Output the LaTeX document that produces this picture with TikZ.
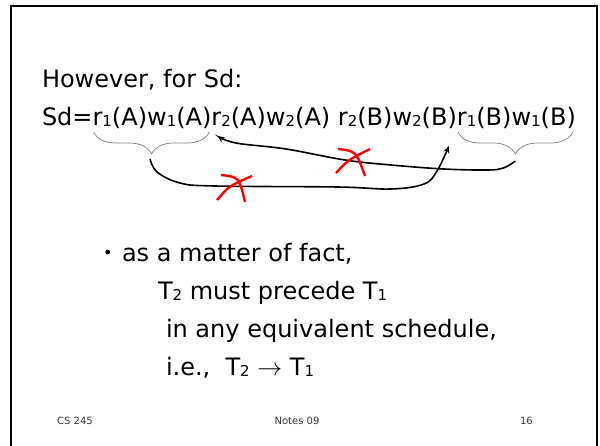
\documentclass[tikz,border=0pt]{standalone}
\usepackage{fontspec}
\setmainfont{DejaVu Sans}
\usetikzlibrary{calc,decorations.pathreplacing,arrows.meta}
\newcommand\sbx[1]{\raisebox{-1pt}{\fontsize{15}{15}\selectfont #1}}
\tikzset{
  txt/.style={anchor=base west, inner sep=0pt, outer sep=0pt, font=\fontsize{24}{28}\selectfont},
  foot/.style={anchor=base west, inner sep=0pt, text=black!80, font=\fontsize{10}{12}\selectfont},
  bracesty/.style={draw=black!50, line width=0.7pt, decorate, decoration={brace, mirror, amplitude=22pt}},
  arrowsty/.style={draw=black, line width=1.6pt, -{Stealth[length=7pt,width=6pt]}},
  crosssty/.style={draw=red, line width=2.4pt},
  framesty/.style={draw=black, line width=2.5pt}
}
\begin{document}
\begin{tikzpicture}[x=1pt,y=-1pt]
\useasboundingbox (0,0) rectangle (600,445);
\node[txt] (how) at (42,87) {However, for Sd:};
\node[txt] (sd) at (42,125) {Sd=};
\node[txt] (g1) at (sd.base east) {r\sbx1(A)w\sbx1(A)};
\node[txt] (g2) at (g1.base east) {r\sbx2(A)w\sbx2(A) r\sbx2(B)w\sbx2(B)};
\node[txt] (g3) at (g2.base east) {r\sbx1(B)w\sbx1(B)};
\draw[bracesty] ($(g1.base west)+(1,7)$) -- ($(g1.base east)+(-2,7)$);
\draw[bracesty] ($(g3.base west)+(1,7)$) -- ($(g3.base east)+(-3,7)$);
\coordinate (b1tip) at ($(g1.base west)!0.5!(g1.base east)+(-2,34)$);
\coordinate (b2tip) at ($(g3.base west)!0.5!(g3.base east)+(-1,36)$);
\coordinate (h1) at ($(g2.base west)+(6,11)$);
\coordinate (h2) at ($(g3.base west)+(-8,21)$);
\draw[arrowsty] plot[smooth, tension=0.6] coordinates {(b2tip) ($(b2tip)+(-12,7)$) ($(b2tip)+(-28,9)$) (444,169) (391,165) (345,160) (286,149) (236,143) (h1)};
\draw[arrowsty] plot[smooth, tension=0.6] coordinates {(b1tip) ($(b1tip)+(7,13)$) (180,183) (215,186) (338,187) (391,189) (424,184) (437,171) (h2)};
\draw[crosssty] (338,149) .. controls (356,151) .. (365,176);
\draw[crosssty] (336,173) .. controls (348,160) .. (370,149);
\draw[crosssty] (221,175) .. controls (239,177) .. (245,202);
\draw[crosssty] (217,200) .. controls (229,186) .. (252,176);
\node[txt] (bul) at (103,261) {\fontsize{16}{16}\selectfont\raisebox{3pt}{•}};
\node[txt] (l1) at (122,261) {as a matter of fact,};
\node[txt] (l2) at (158,299) {T\sbx2 must precede T\sbx1};
\node[txt] (l3) at (166,337) {in any equivalent schedule,};
\node[txt] (l4) at (166,375) {i.e.,\ \ T\sbx2 $\rightarrow$ T\sbx1};
\node[foot] (f1) at (57,424) {CS 245};
\node[foot, anchor=base] (f2) at (297,424) {Notes 09};
\node[foot, anchor=base east] (f3) at (533,424) {16};
\draw[framesty] (11,450) -- (11,6) -- (597,6) -- (597,450);
\end{tikzpicture}
\end{document}
